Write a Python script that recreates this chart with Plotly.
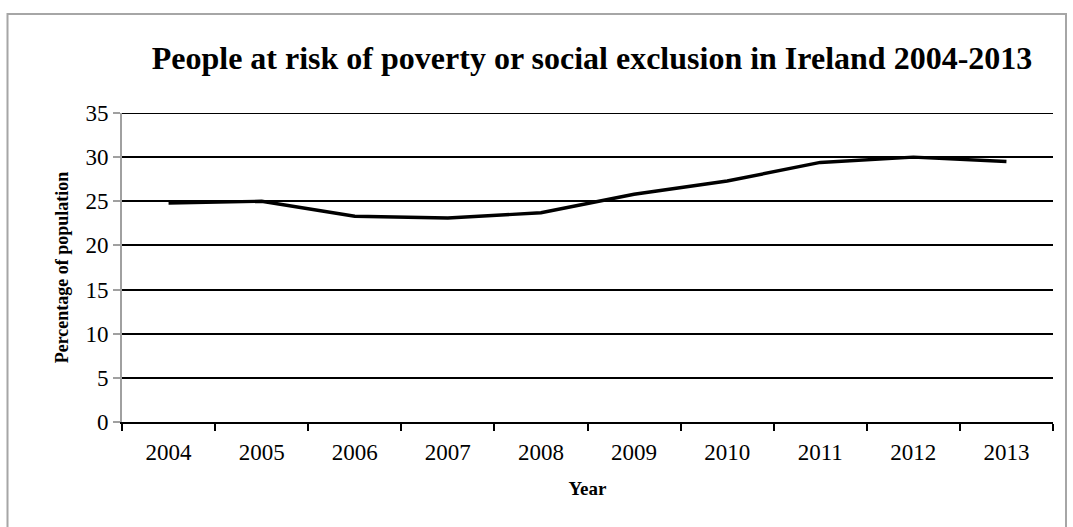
import plotly.graph_objects as go

# At-risk-of-poverty-or-social-exclusion rate, Ireland
years = ["2004", "2005", "2006", "2007", "2008", "2009", "2010", "2011", "2012", "2013"]
rate = [24.8, 25.0, 23.3, 23.1, 23.7, 25.8, 27.3, 29.4, 30.0, 29.5]
y_ticks = [0, 5, 10, 15, 20, 25, 30, 35]

W, H = 1073, 527
L, R, T, B = 122, 20, 113, 105
pw, ph = W - L - R, H - T - B

def px_x(p):
    return (p - L) / pw

def px_y(p):
    return (H - B - p) / ph

serif = "Liberation Serif, Times New Roman, serif"

fig = go.Figure()
fig.add_trace(go.Scatter(
    x=years, y=rate, mode="lines",
    line=dict(color="black", width=3.4),
    hoverinfo="x+y", showlegend=False,
))

fig.update_layout(
    width=W, height=H,
    margin=dict(l=L, r=R, t=T, b=B),
    paper_bgcolor="white", plot_bgcolor="white",
    font=dict(family=serif, color="black"),
    title=dict(
        text="<b>People at risk of poverty or social exclusion in Ireland 2004-2013</b>",
        font=dict(family=serif, size=32, color="black"),
        x=592 / W, xanchor="center",
        y=1 - 58 / H, yanchor="middle",
    ),
    xaxis=dict(
        type="category", tickson="boundaries",
        range=[-0.5, 9.5],
        showgrid=False, zeroline=False,
        showline=True, linecolor="black", linewidth=2,
        ticks="outside", ticklen=7, tickwidth=2, tickcolor="black",
        ticklabelstandoff=8,
        tickfont=dict(family=serif, size=23, color="black"),
        title=dict(text="<b>Year</b>", font=dict(family=serif, size=19, color="black"), standoff=18),
    ),
    yaxis=dict(
        range=[0, 35], tickmode="array", tickvals=y_ticks,
        showgrid=True, gridcolor="black", gridwidth=2,
        zeroline=False,
        showline=True, linecolor="#a0a0a0", linewidth=2,
        ticks="outside", ticklen=7, tickwidth=2, tickcolor="#a0a0a0",
        tickfont=dict(family=serif, size=23, color="black"),
        title=dict(text="<b>Percentage of population</b>", font=dict(family=serif, size=18, color="black"), standoff=12),
    ),
    shapes=[
        dict(
            type="rect", xref="paper", yref="paper",
            x0=px_x(7.5), x1=px_x(1066), y0=px_y(560), y1=px_y(14),
            line=dict(color="#a6a6a6", width=2), fillcolor="rgba(0,0,0,0)", layer="below",
        ),
        # gridline at the top of the value range
        dict(
            type="line", xref="paper", yref="y",
            x0=0, x1=1, y0=y_ticks[-1], y1=y_ticks[-1],
            line=dict(color="black", width=2), layer="below",
        ),
    ],
)

fig.write_html("out.html")
